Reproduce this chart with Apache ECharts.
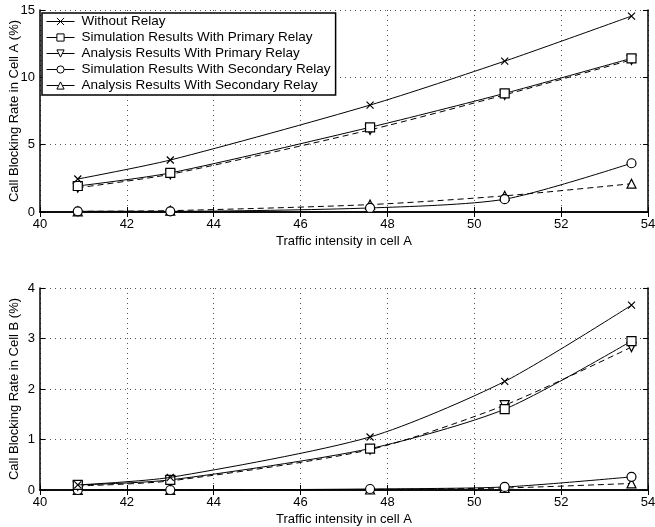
<!DOCTYPE html>
<html>
<head>
<meta charset="utf-8">
<script src="https://cdn.jsdelivr.net/npm/echarts@6/dist/echarts.min.js"></script>
<style>
  html, body { margin: 0; padding: 0; background: #fff; }
  #chart { width: 655px; height: 527px; }
</style>
</head>
<body>
<div id="chart"></div>
<script>
// traffic intensity in cell A
const traffic = [40.87, 43.0, 47.6, 50.7, 53.62]

// cell A blocking rate (%)
const aWithout = [2.45, 3.86, 7.94, 11.2, 14.55]
const aSimPrimary = [1.93, 2.9, 6.29, 8.81, 11.41]
const aAnaPrimary = [1.8, 2.8, 6.1, 8.7, 11.3]
const aSimSecondary = [0.05, 0.05, 0.3, 0.95, 3.62]
const aAnaSecondary = [0.05, 0.1, 0.55, 1.2, 2.1]

// cell B blocking rate (%)
const bWithout = [0.1, 0.25, 1.05, 2.15, 3.66]
const bSimPrimary = [0.1, 0.2, 0.82, 1.6, 2.95]
const bAnaPrimary = [0.08, 0.18, 0.8, 1.68, 2.83]
const bSimSecondary = [0.0, 0.0, 0.02, 0.06, 0.26]
const bAnaSecondary = [0.0, 0.0, 0.01, 0.04, 0.13]

const names = [
  'Without Relay',
  'Simulation Results With Primary Relay',
  'Analysis Results With Primary Relay',
  'Simulation Results With Secondary Relay',
  'Analysis Results With Secondary Relay',
]
const crossPath = 'path://M0,0L10,10M10,0L0,10'
const symbols = [crossPath, 'rect', 'path://M0,0L10,0L5,9Z', 'circle', 'triangle']
const dashed = [false, false, true, false, true]

const font = 'Liberation Sans, Arial, Helvetica, sans-serif'

const chart = echarts.init(document.getElementById('chart'), null, { renderer: 'canvas' })

function pairs (ys) {
  return traffic.map((x, i) => [x, ys[i]])
}

function makeSeries (dataSets, idx) {
  return dataSets.map((ys, i) => ({
    name: names[i],
    type: 'line',
    xAxisIndex: idx * 2,
    yAxisIndex: idx * 2,
    data: pairs(ys),
    smooth: 0.25,
    symbol: symbols[i],
    symbolSize: i === 0 ? 7 : 9,
    showSymbol: true,
    color: '#000',
    lineStyle: { color: '#000', width: 1, type: dashed[i] ? [6, 4] : 'solid' },
    itemStyle: { color: '#fff', borderColor: '#000', borderWidth: 1.2 },
    z: 10 - i,
  }))
}

const gridLine = { show: true, lineStyle: { color: '#555', type: [1, 4], width: 1 } }

function xAxes (gi) {
  return [
    {
      type: 'value', gridIndex: gi, min: 40, max: 54, interval: 2,
      name: 'Traffic intensity in cell A', nameLocation: 'middle', nameGap: 23,
      nameMoveOverlap: false,
      nameTextStyle: { color: '#000', fontFamily: font, fontSize: 13 },
      axisLine: { show: true, lineStyle: { color: '#000', width: 1.5 } },
      axisTick: { inside: true, length: 5, lineStyle: { color: '#000' } },
      axisLabel: { color: '#000', fontFamily: font, fontSize: 13, margin: 6 },
      splitLine: gridLine,
    },
    {
      type: 'value', gridIndex: gi, min: 40, max: 54, interval: 2, position: 'top',
      axisLine: { show: true, lineStyle: { color: '#000', width: 1.5 } },
      axisTick: { inside: true, length: 5, lineStyle: { color: '#000' } },
      axisLabel: { show: false },
      splitLine: { show: false },
    },
  ]
}

function yAxes (gi, max, interval, label) {
  return [
    {
      type: 'value', gridIndex: gi, min: 0, max: max, interval: interval,
      name: label, nameLocation: 'middle', nameGap: 19, nameRotate: 90,
      nameMoveOverlap: false,
      nameTextStyle: { color: '#000', fontFamily: font, fontSize: 13 },
      axisLine: { show: true, lineStyle: { color: '#000', width: 1.5 } },
      axisTick: { inside: true, length: 5, lineStyle: { color: '#000' } },
      axisLabel: { color: '#000', fontFamily: font, fontSize: 13, margin: 5 },
      splitLine: gridLine,
    },
    {
      type: 'value', gridIndex: gi, min: 0, max: max, interval: interval, position: 'right',
      axisLine: { show: true, lineStyle: { color: '#000', width: 1.5 } },
      axisTick: { inside: true, length: 5, lineStyle: { color: '#000' } },
      axisLabel: { show: false },
      splitLine: { show: false },
    },
  ]
}

const option = {
  backgroundColor: '#fff',
  animation: false,
  grid: [
    { left: 40, right: 7, top: 10, height: 202, containLabel: false, outerBoundsMode: 'none' },
    { left: 40, right: 7, top: 288, height: 202, containLabel: false, outerBoundsMode: 'none' },
  ],
  xAxis: [...xAxes(0), ...xAxes(1)],
  yAxis: [
    ...yAxes(0, 15, 5, 'Call Blocking Rate in Cell A (%)'),
    ...yAxes(1, 4, 1, 'Call Blocking Rate in Cell B (%)'),
  ],
  legend: {
    orient: 'vertical',
    left: 42,
    top: 13,
    data: names,
    backgroundColor: '#fff',
    borderColor: '#000',
    borderWidth: 1.5,
    borderRadius: 0,
    padding: [1, 5, 2, 4],
    itemWidth: 28,
    itemHeight: 9,
    itemGap: 1,
    lineStyle: { width: 1, type: 'solid' },
    itemStyle: { borderWidth: 1 },
    textStyle: { color: '#000', fontFamily: font, fontSize: 13.5, lineHeight: 15, padding: [0, 0, 0, 2] },
    z: 20,
  },
  series: [
    ...makeSeries([aWithout, aSimPrimary, aAnaPrimary, aSimSecondary, aAnaSecondary], 0),
    ...makeSeries([bWithout, bSimPrimary, bAnaPrimary, bSimSecondary, bAnaSecondary], 1),
  ],
}

chart.setOption(option)
</script>
</body>
</html>
